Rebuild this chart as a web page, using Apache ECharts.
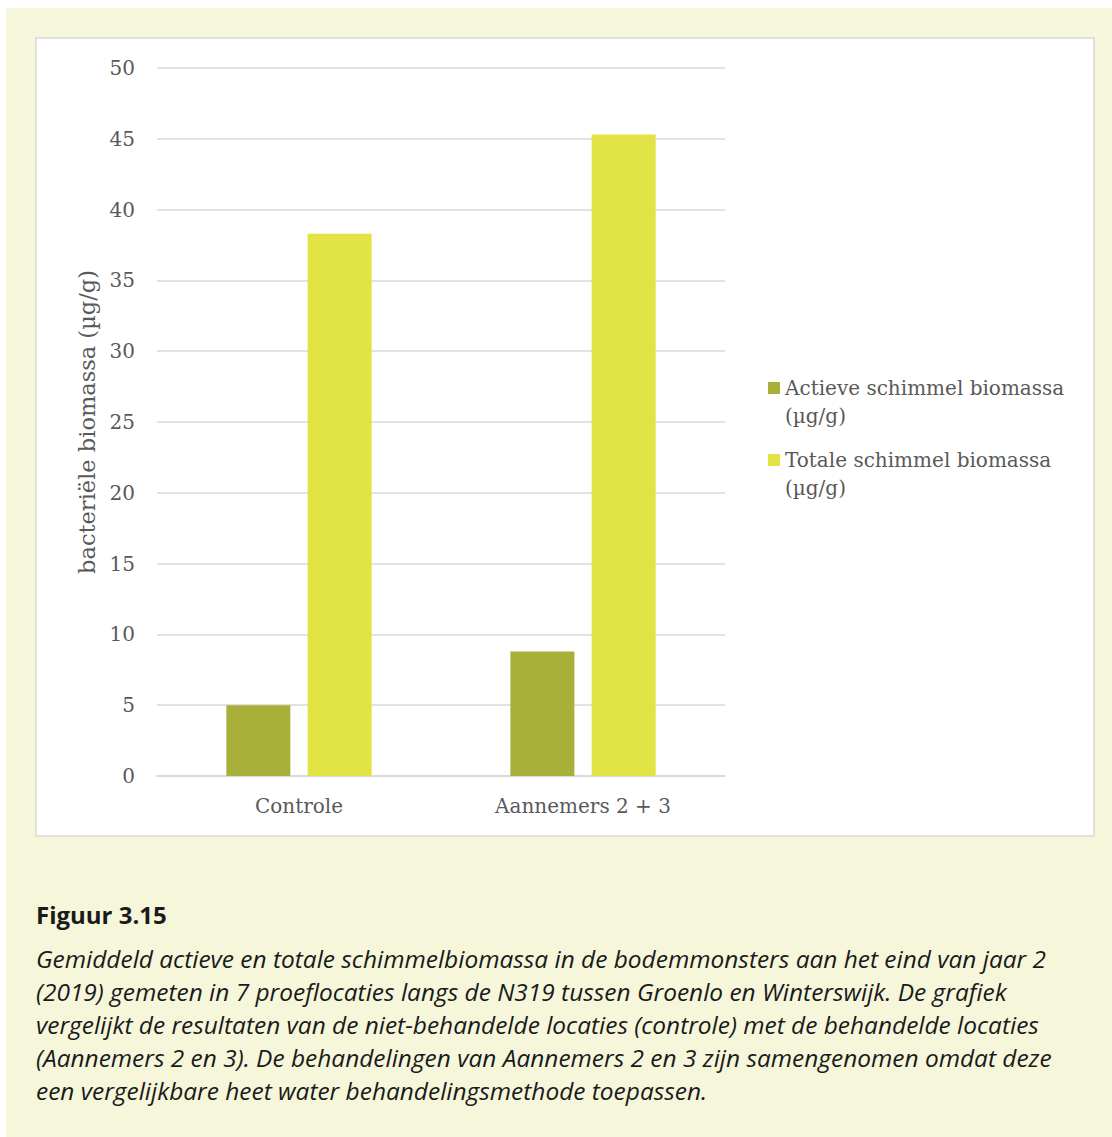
<!DOCTYPE html>
<html><head><meta charset="utf-8">
<script src="https://cdn.jsdelivr.net/npm/echarts@6/dist/echarts.min.js"></script>
<style>html,body{margin:0;padding:0;background:#fff}#c{width:1112px;height:1137px}</style>
</head><body><div id="c"></div>
<script>
const categories = ['Controle', 'Aannemers 2 + 3'];
const actieve = [5.0, 8.8];
const totale = [38.3, 45.3];
const seriesNames = ['Actieve schimmel biomassa\n(µg/g)', 'Totale schimmel biomassa\n(µg/g)'];
const yAxisName = 'bacteriële biomassa (µg/g)';
const captionTitle = 'Figuur 3.15';
const captionLines = [
  'Gemiddeld actieve en totale schimmelbiomassa in de bodemmonsters aan het eind van jaar 2',
  '(2019) gemeten in 7 proeflocaties langs de N319 tussen Groenlo en Winterswijk. De grafiek',
  'vergelijkt de resultaten van de niet-behandelde locaties (controle) met de behandelde locaties',
  '(Aannemers 2 en 3). De behandelingen van Aannemers 2 en 3 zijn samengenomen omdat deze',
  'een vergelijkbare heet water behandelingsmethode toepassen.'
];

const serif = 'DejaVu Serif';
const sans = 'Open Sans';
const chart = echarts.init(document.getElementById('c'), null, {renderer: 'svg'});

const graphics = [
  {type: 'rect', shape: {x: 6, y: 8, width: 1106, height: 1129}, style: {fill: '#F6F6DA'}, z: -10, silent: true},
  {type: 'rect', shape: {x: 36, y: 38, width: 1058, height: 798}, style: {fill: '#FFFFFF', stroke: '#D9D9D9', lineWidth: 1.5}, z: -9, silent: true},
  {type: 'text', left: 36, top: 902, style: {text: captionTitle, font: 'bold 24px "' + sans + '"', fill: '#1A1A1A'}}
];
captionLines.forEach((t, i) => {
  graphics.push({type: 'text', left: 36, top: 946 + i * 33, style: {text: t, font: 'italic 24.45px "' + sans + '"', fill: '#1A1A1A'}});
});

const legendBase = {
  orient: 'vertical', left: 768, padding: 0, itemWidth: 12, itemHeight: 12,
  icon: 'rect',
  formatter: n => ' \n' + n,
  textStyle: {fontFamily: serif, fontSize: 20, color: '#595959', lineHeight: 28}
};

chart.setOption({
  animation: false,
  backgroundColor: '#FFFFFF',
  graphic: graphics,
  legend: [
    Object.assign({}, legendBase, {top: 346, data: [seriesNames[0]]}),
    Object.assign({}, legendBase, {top: 418, data: [seriesNames[1]]})
  ],
  grid: {left: 157, top: 68, right: 387, bottom: 361, containLabel: false},
  xAxis: {
    type: 'category', data: categories,
    axisLine: {lineStyle: {color: '#D9D9D9', width: 1.5}},
    axisTick: {show: false},
    axisLabel: {fontFamily: serif, fontSize: 20, color: '#595959', margin: 20}
  },
  yAxis: {
    type: 'value', min: 0, max: 50, interval: 5,
    name: yAxisName, nameLocation: 'middle', nameGap: 58, nameRotate: 90,
    nameTextStyle: {fontFamily: serif, fontSize: 22.5, color: '#595959'},
    axisLine: {show: false}, axisTick: {show: false},
    axisLabel: {fontFamily: serif, fontSize: 20, color: '#595959', margin: 22},
    splitLine: {lineStyle: {color: '#D9D9D9', width: 1.5}}
  },
  series: [
    {name: seriesNames[0], type: 'bar', data: actieve, itemStyle: {color: '#A9B03A'}, barWidth: 64, barGap: '27%'},
    {name: seriesNames[1], type: 'bar', data: totale, itemStyle: {color: '#E1E444'}, barWidth: 64, barGap: '27%'}
  ]
});
</script></body></html>
